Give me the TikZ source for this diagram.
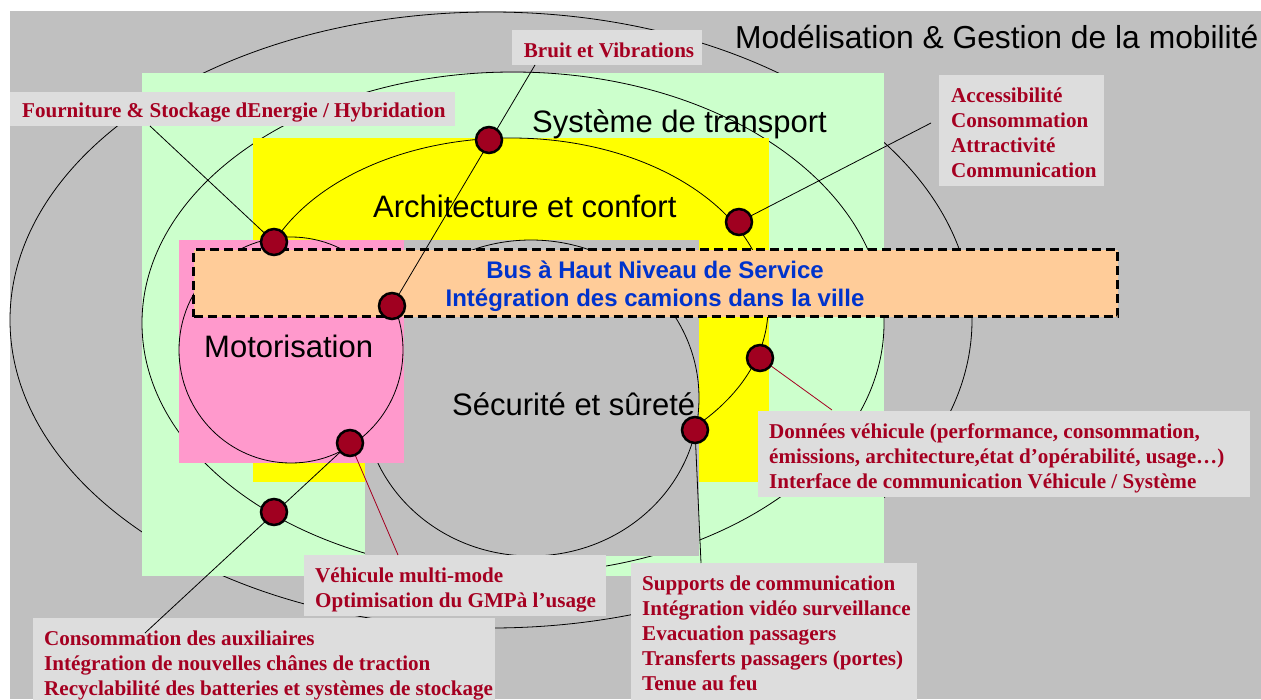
\documentclass[tikz,border=0pt]{standalone}
\usepackage{fontspec}
\setmainfont{Liberation Sans}
\newfontfamily\lblserif{Liberation Serif}
\definecolor{bggray}{HTML}{C0C0C0}
\definecolor{lgreen}{HTML}{CCFFCC}
\definecolor{yel}{HTML}{FFFF00}
\definecolor{pinkc}{HTML}{FF99CC}
\definecolor{orangec}{HTML}{FFCC99}
\definecolor{boxgray}{HTML}{DDDDDD}
\definecolor{lblred}{HTML}{A50021}
\definecolor{dotred}{HTML}{A00020}
\definecolor{busblue}{HTML}{0033CC}
\pgfdeclarelayer{front}
\pgfsetlayers{main,front}
\newcommand\mlL[2]{\vtop{\baselineskip=#1\lineskiplimit=-\maxdimen\halign{##\hfil\cr#2}}}
\newcommand\mlC[2]{\vtop{\baselineskip=#1\lineskiplimit=-\maxdimen\halign{\hfil##\hfil\cr#2}}}
\tikzset{
  outline/.style={draw=black, line width=0.8pt},
  bigtxt/.style={font=\fontsize{31}{36}\selectfont, inner sep=0pt, anchor=base west},
  lblbox/.style={fill=boxgray, inner sep=0pt, anchor=north west},
  lbltxt/.style={font=\lblserif\bfseries\fontsize{21.1}{25}\selectfont, text=lblred, inner sep=0pt, anchor=base west},
  dotn/.style={circle, draw=black, line width=2.5pt, fill=dotred, minimum size=26pt, inner sep=0pt},
  leader/.style={draw=black, line width=0.8pt},
  redleader/.style={draw=lblred, line width=0.8pt},
  busbox/.style={fill=orangec, draw=black, line width=3pt, dash pattern=on 9pt off 5pt, inner sep=0pt, anchor=north west},
  bustxt/.style={font=\bfseries\fontsize{24}{28}\selectfont, text=busblue, inner sep=0pt, anchor=base}
}
\begin{document}
\begin{tikzpicture}[x=1pt,y=-1pt]
\useasboundingbox (0,0) rectangle (1261,699);
\fill[white] (0,0) rectangle (1261,699);
\fill[bggray] (10,11) rectangle (1261,699);
% outer ellipse
\draw[outline] (491,320) ellipse [x radius=481pt, y radius=308pt];
% green
\fill[lgreen] (142,73) rectangle (884,576);
\draw[outline] (513,323) ellipse [x radius=371pt, y radius=251pt];
% yellow
\fill[yel] (253,138) rectangle (769,482);
\draw[outline] (511,308) ellipse [x radius=257pt, y radius=170pt];
% gray (securite)
\fill[bggray] (365,240) rectangle (699,556);
\draw[outline] (531,398) ellipse [x radius=168pt, y radius=158pt];
% pink
\fill[pinkc] (179,240) rectangle (404,463);
\draw[outline] (291,350) ellipse [x radius=112pt, y radius=113pt];
% big labels
\node[bigtxt, font=\fontsize{31.8}{36}\selectfont] (titre) at (735,48) {Modélisation \& Gestion de la mobilité};
\node[bigtxt] (systeme) at (532,132) {Système de transport};
\node[bigtxt] (archi) at (373,217) {Architecture et confort};
\node[bigtxt] (moto) at (204,357) {Motorisation};
\node[bigtxt] (secu) at (452,415) {Sécurité et sûreté};
% bus box
\node[busbox, minimum width=924pt, minimum height=67pt] (bus) at (192,248) {};
\node[bustxt] (bustext) at (655,278) {\mlC{28pt}{Bus à Haut Niveau de Service\cr Intégration des camions dans la ville\cr}};
% label boxes
\node[lblbox, minimum width=190pt, minimum height=35pt] (bruitbox) at (512,30) {};
\node[lbltxt, anchor=base] (bruit) at (609,57) {Bruit et Vibrations};
\node[lblbox, minimum width=445pt, minimum height=34pt] (fournbox) at (10,92) {};
\node[lbltxt] (fourn) at (22,117) {Fourniture \& Stockage dEnergie / Hybridation};
\node[lblbox, minimum width=165pt, minimum height=111pt] (accbox) at (939,75) {};
\node[lbltxt] (acc) at (951,102) {\mlL{25pt}{Accessibilité\cr Consommation\cr Attractivité\cr Communication\cr}};
\node[lblbox, minimum width=492pt, minimum height=86pt] (donbox) at (758,411) {};
\node[lbltxt] (don) at (769,438) {\mlL{25pt}{Données véhicule (performance, consommation,\cr émissions, architecture,état d’opérabilité, usage…)\cr Interface de communication Véhicule / Système\cr}};
\node[lblbox, minimum width=286pt, minimum height=140pt] (suppbox) at (631,563) {};
\node[lbltxt] (supp) at (642,590) {\mlL{25pt}{Supports de communication\cr Intégration vidéo surveillance\cr Evacuation passagers\cr Transferts passagers (portes)\cr Tenue au feu\cr}};
\node[lblbox, minimum width=302pt, minimum height=61pt] (vehbox) at (304,555) {};
\node[lbltxt] (veh) at (315,582) {\mlL{25pt}{Véhicule multi-mode\cr Optimisation du GMPà l’usage\cr}};
\node[lblbox, minimum width=462pt, minimum height=90pt] (consbox) at (33,618) {};
\node[lbltxt] (cons) at (44,645) {\mlL{25pt}{Consommation des auxiliaires\cr Intégration de nouvelles chânes de traction\cr Recyclabilité des batteries et systèmes de stockage\cr}};
% dots
\begin{pgfonlayer}{front}
\node[dotn] (d1) at (489,140) {};
\node[dotn] (d2) at (274,242) {};
\node[dotn] (d3) at (392,306) {};
\node[dotn] (d4) at (739,222) {};
\node[dotn] (d5) at (760,358) {};
\node[dotn] (d6) at (695,430) {};
\node[dotn] (d7) at (350,443) {};
\node[dotn] (d8) at (274,512) {};
\end{pgfonlayer}
% leader end points
\coordinate (bruitA) at (535,65);
\coordinate (fournA) at (150,126);
\coordinate (accA) at (931,123);
\coordinate (donA) at (832,410);
\coordinate (suppA) at (701,563);
\coordinate (vehA) at (398,555);
\coordinate (consA) at (145,633);
\draw[leader] (bruitA) -- (d3.center);
\draw[leader] (fournA) -- (d2.center);
\draw[leader] (accA) -- (d4.center);
\draw[redleader] (d5.center) -- (donA);
\draw[leader] (d6.center) -- (suppA);
\draw[redleader] (d7.center) -- (vehA);
\draw[leader] (consA) -- (d7.center);
\end{tikzpicture}
\end{document}
